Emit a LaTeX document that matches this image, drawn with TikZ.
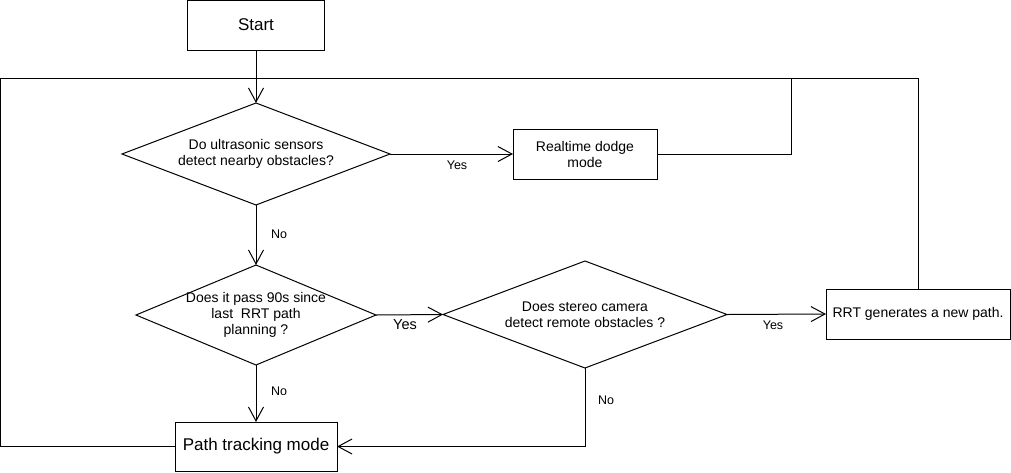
\documentclass[tikz,border=0pt]{standalone}
\usepackage{fontspec}
\setmainfont{Liberation Sans}
\usetikzlibrary{shapes.geometric,arrows.meta}
\begin{document}
\begin{tikzpicture}[x=1pt,y=-1pt,
 box/.style={draw,line width=1pt,inner sep=0pt,outer sep=0pt,align=center,font=\fontsize{14}{16}\selectfont},
 dia/.style={draw,diamond,line width=1pt,inner sep=0pt,outer sep=0pt,align=center,font=\fontsize{14}{16}\selectfont},
 lbl/.style={font=\fontsize{12.5}{15}\selectfont,inner sep=0pt},
 flow/.style={line width=1pt,-{Straight Barb[length=14pt,width=15pt,line width=1pt]}},
 link/.style={line width=1pt}]
\useasboundingbox (0,0) rectangle (1011,472);
\fill[white] (0,0) rectangle (1011,472);

\node[box,minimum width=137,minimum height=50,font=\fontsize{17}{20}\selectfont] (start) at (256,25) {Start};
\node[dia,minimum width=268,minimum height=102,aspect=2.63] (d1) at (256,154) {Do ultrasonic sensors\\detect nearby obstacles?};
\node[box,minimum width=144,minimum height=50] (dodge) at (585,154) {Realtime dodge\\mode};
\node[dia,minimum width=240,minimum height=100,aspect=2.4,inner sep=-3pt] (d2) at (256,315) {Does it pass 90s since\\last\ \ RRT path\\planning ?};
\node[dia,minimum width=284,minimum height=107,aspect=2.65] (d3) at (585,314.5) {Does stereo camera\\detect remote obstacles ?};
\node[box,minimum width=184,minimum height=50] (rrt) at (918,314) {RRT generates a new path.};
\node[box,minimum width=162,minimum height=49,font=\fontsize{17}{20}\selectfont] (ptm) at (256,446.5) {Path tracking mode};

\coordinate (cl) at (0.5,78);
\coordinate (bl) at (0.5,446.5);
\coordinate (tr) at (918,78);
\coordinate (dj) at (791,78);
\coordinate (dm) at (791,154);
\coordinate (nb) at (585,446.5);

\draw[link] (ptm.west) -- (bl) -- (cl) -- (tr) -- (rrt.north);
\draw[link] (dodge.east) -- (dm) -- (dj);
\draw[flow] (start) -- (d1);
\draw[flow] (d1.east) -- (dodge.west);
\draw[flow] (d1.south) -- (d2.north);
\draw[flow] (d2.east) -- (d3.west);
\draw[flow] (d3.east) -- (rrt.west);
\draw[flow] (d2.south) -- (ptm.north);
\draw[flow] (d3.south) -- (nb) -- (ptm.east);

\node[lbl] (y1) at (457,165) {Yes};
\node[lbl] (n1) at (279,234) {No};
\node[lbl,font=\fontsize{14.5}{17}\selectfont] (y2) at (405,325) {Yes};
\node[lbl] (y3) at (773,325) {Yes};
\node[lbl] (n2) at (606,400) {No};
\node[lbl] (n3) at (279,391) {No};
\end{tikzpicture}
\end{document}
